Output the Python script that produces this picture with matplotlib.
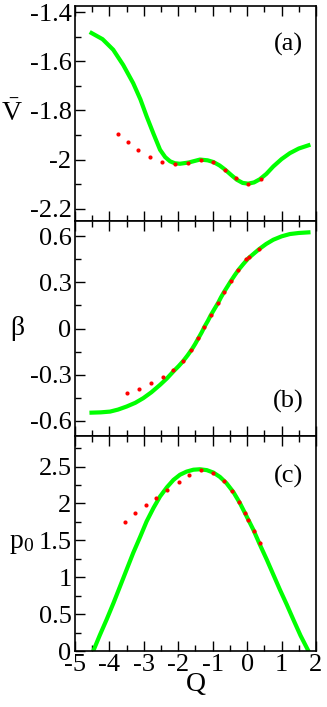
import matplotlib
matplotlib.use('Agg')
import matplotlib.pyplot as plt
from matplotlib.ticker import MultipleLocator, FuncFormatter

plt.rcParams['font.family'] = ['Liberation Serif', 'DejaVu Serif']
plt.rcParams['mathtext.fontset'] = 'custom'
plt.rcParams['mathtext.rm'] = 'Liberation Serif'
plt.rcParams['mathtext.it'] = 'Liberation Serif:italic'
plt.rcParams['axes.unicode_minus'] = False

# panel (a): V-bar
va_q = [-4.52, -4.2, -3.89, -3.6, -3.31, -3.1, -2.92, -2.72, -2.53, -2.38, -2.24, -2.1, -1.95,
        -1.7, -1.37, -1.15, -0.98, -0.8, -0.64, -0.47, -0.3, -0.13, 0.03, 0.2, 0.37, 0.56,
        0.76, 1.0, 1.24, 1.5, 1.78]
va_v = [-1.485, -1.51, -1.553, -1.615, -1.689, -1.755, -1.824, -1.895, -1.96, -1.99, -2.007,
        -2.015, -2.017, -2.012, -2.0, -2.003, -2.01, -2.024, -2.041, -2.062, -2.082, -2.095,
        -2.098, -2.093, -2.08, -2.058, -2.028, -1.998, -1.974, -1.955, -1.942]
va_red_q = [-3.74, -3.47, -3.16, -2.83, -2.48, -2.10, -1.71, -1.34, -0.98, -0.64, -0.33, 0.03, 0.40]
va_red_v = [-1.895, -1.930, -1.963, -1.990, -2.010, -2.018, -2.014, -2.001, -2.010, -2.041,
            -2.075, -2.098, -2.078]

# panel (b): beta
b_q = [-4.52, -4.25, -3.98, -3.75, -3.5, -3.25, -3.02, -2.78, -2.53, -2.33, -2.14, -1.99, -1.85,
       -1.73, -1.61, -1.51, -1.42, -1.32, -1.23, -1.14, -1.06, -0.95, -0.84, -0.76, -0.67, -0.57,
       -0.47, -0.36, -0.25, -0.11, 0.03, 0.19, 0.35, 0.55, 0.76, 1.0, 1.24, 1.5, 1.78]
b_beta = [-0.548, -0.546, -0.541, -0.528, -0.508, -0.484, -0.454, -0.415, -0.367, -0.325,
          -0.279, -0.245, -0.21, -0.175, -0.137, -0.101, -0.065, -0.025, 0.015, 0.05, 0.085,
          0.127, 0.168, 0.203, 0.238, 0.274, 0.31, 0.347, 0.382, 0.42, 0.456, 0.487, 0.517,
          0.55, 0.578, 0.6, 0.615, 0.622, 0.626]
b_red_q = [-3.50, -3.13, -2.79, -2.45, -2.14, -1.85, -1.62, -1.43, -1.25, -1.06, -0.86, -0.67,
           -0.47, -0.26, -0.02, 0.06, 0.35]
b_red_beta = [-0.423, -0.393, -0.358, -0.316, -0.268, -0.21, -0.137, -0.065, 0.009, 0.087,
              0.164, 0.236, 0.31, 0.38, 0.45, 0.463, 0.519]

# panel (c): p0
c_q = [-4.47, -4.28, -4.08, -3.88, -3.69, -3.5, -3.31, -3.11, -2.92, -2.72, -2.53, -2.33, -2.14,
       -1.95, -1.76, -1.56, -1.37, -1.17, -0.98, -0.79, -0.6, -0.4, -0.21, -0.02, 0.18, 0.37,
       0.57, 0.76, 0.95, 1.15, 1.34, 1.55, 1.78]
c_p = [0.0, 0.214, 0.428, 0.653, 0.878, 1.104, 1.329, 1.545, 1.757, 1.94, 2.095, 2.22, 2.32,
       2.39, 2.432, 2.458, 2.464, 2.452, 2.419, 2.36, 2.275, 2.155, 2.005, 1.83, 1.644, 1.442,
       1.239, 1.036, 0.833, 0.63, 0.428, 0.21, 0.0]
c_red_q = [-3.56, -3.26, -2.95, -2.64, -2.33, -1.98, -1.69, -1.34, -0.98, -0.67, -0.44, -0.24,
           -0.05, 0.03, 0.21, 0.38]
c_red_p = [1.752, 1.865, 1.973, 2.077, 2.18, 2.293, 2.383, 2.455, 2.419, 2.311, 2.171, 2.023,
           1.869, 1.775, 1.622, 1.459]

panels = [
    (va_q, va_v, va_red_q, va_red_v, (-2.25, -1.375), 0.2, 0.1, r'$\bar{\mathrm{V}}$', -0.26, '(a)', 0.82),
    (b_q, b_beta, b_red_q, b_red_beta, (-0.7, 0.7), 0.3, 0.15, 'β', -0.24, '(b)', 0.16),
    (c_q, c_p, c_red_q, c_red_p, (0, 2.915), 0.5, 0.25, r'p$_0$', -0.22, '(c)', 0.81),
]

fmt = FuncFormatter(lambda v, p: '%g' % round(v, 3))

fig = plt.figure(figsize=(3.27, 7.07), dpi=100)
left, width = 75 / 327, 241 / 327
h = 215 / 707
bottoms = [1 - 221 / 707, 1 - 436 / 707, 1 - 651 / 707]

for i, (gq, gv, rq, rv, ylim, maj, mnr, ylab, lx, tag, ty) in enumerate(panels):
    ax = fig.add_axes([left, bottoms[i], width, h])
    ax.plot(gq, gv, color='#00ff00', linewidth=3.0, zorder=2)
    ax.plot(rq, rv, linestyle='none', marker='o', markersize=3.0, color='#ff0000',
            markeredgewidth=0, zorder=3)
    ax.set_xlim(-5, 2)
    ax.set_ylim(*ylim)
    ax.xaxis.set_major_locator(MultipleLocator(1))
    ax.xaxis.set_minor_locator(MultipleLocator(0.5))
    ax.yaxis.set_major_locator(MultipleLocator(maj))
    ax.yaxis.set_minor_locator(MultipleLocator(mnr))
    ax.xaxis.set_major_formatter(fmt)
    ax.yaxis.set_major_formatter(fmt)
    ax.tick_params(which='both', direction='in', top=True, right=False, labelsize=19,
                   pad=2.5, width=1)
    ax.tick_params(which='major', length=7)
    ax.tick_params(which='minor', length=4)
    for s in ax.spines.values():
        s.set_linewidth(1.2)
    ax.set_ylabel(ylab, fontsize=20, rotation=0, va='center', ha='center')
    ax.yaxis.set_label_coords(lx, 0.5)
    ax.text(0.885, ty, tag, transform=ax.transAxes, fontsize=19, ha='center', va='center')
    if i < 2:
        ax.tick_params(labelbottom=False)
    else:
        ax.set_xlabel('Q', fontsize=20, labelpad=-3)

fig.savefig('out.png', dpi=100)
